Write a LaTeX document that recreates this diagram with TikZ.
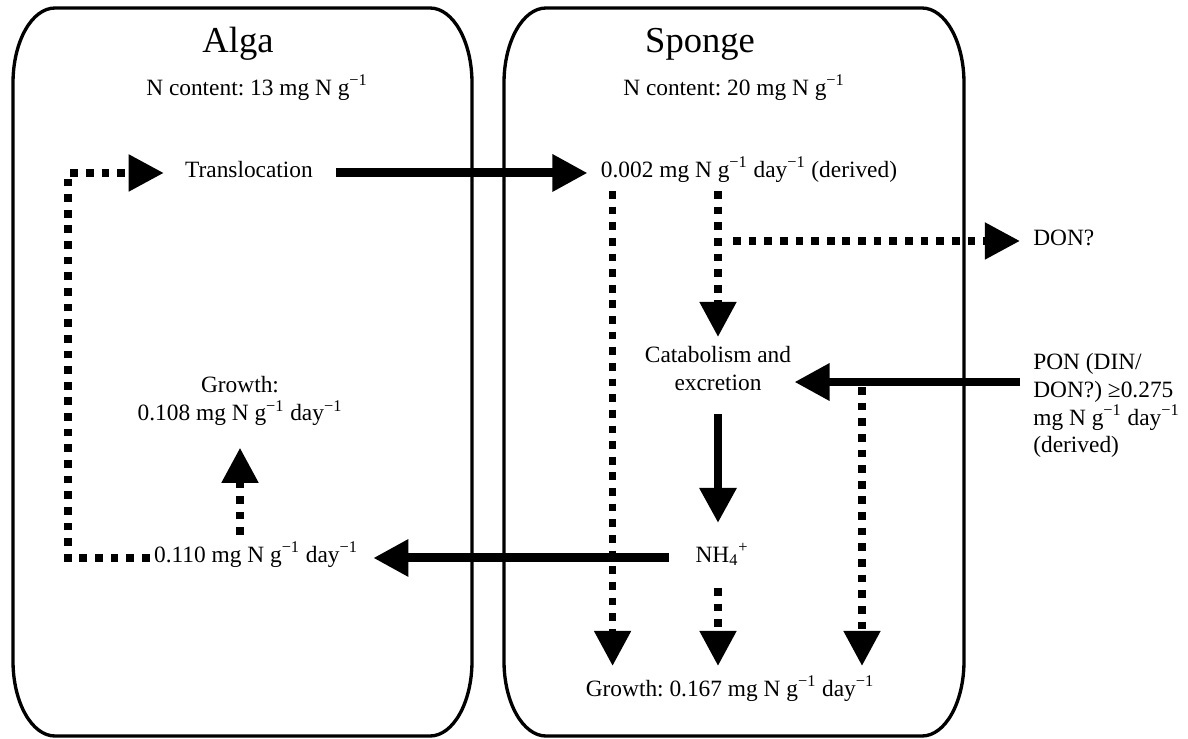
\documentclass[tikz,border=0pt]{standalone}
\usepackage{fontspec}
\setmainfont{Liberation Serif}
\usetikzlibrary{arrows.meta,calc}
\frenchspacing
\newcommand{\inv}{\textsuperscript{−1}}
\newcommand{\ellbox}[4]{%
  \draw[box] (#1,#2+75) arc[start angle=180, end angle=270, x radius=42, y radius=75]
    -- (#3-42,#2) arc[start angle=270, end angle=360, x radius=42, y radius=75]
    -- (#3,#4-75) arc[start angle=0, end angle=90, x radius=42, y radius=75]
    -- (#1+42,#4) arc[start angle=90, end angle=180, x radius=42, y radius=75]
    -- cycle;}
\begin{document}
\begin{tikzpicture}[x=0.02cm,y=-0.02cm,
  txt/.style={font=\fontsize{13.3}{15.8}\selectfont, inner sep=0pt, align=center},
  ttl/.style={font=\fontsize{20.8}{24}\selectfont, inner sep=0pt},
  box/.style={line width=1.9pt},
  solidarr/.style={line width=5.1pt, -{Triangle[length=20pt,width=20pt]}},
  dotarr/.style={line width=4.4pt, dash pattern=on 4.4pt off 4.5pt, -{Triangle[length=20pt,width=20pt]}}]
\useasboundingbox (0,0) rectangle (1188,738);
% boxes
\ellbox{13}{8}{472}{736}
\ellbox{504}{8}{964}{736}
% texts
\node[ttl, anchor=base] (algaT) at (238,52) {Alga};
\node[ttl, anchor=base] (spongeT) at (700,52) {Sponge};
\node[txt, anchor=base] (algaN) at (257,95) {N content: 13 mg N g\inv};
\node[txt, anchor=base] (spongeN) at (734,95) {N content: 20 mg N g\inv};
\node[txt, anchor=base] (transl) at (249,177) {Translocation};
\node[txt, anchor=base] (d002) at (749,177) {0.002 mg N g\inv{} day\inv{} (derived)};
\node[txt, anchor=base west] (don) at (1033,245) {DON?};
\node[txt, anchor=north] (catab) at (718,346) {Catabolism and\\excretion};
\node[txt, anchor=north west, align=left] (pon) at (1033,353) {PON (DIN/\\DON?) ≥0.275\\mg N g\inv{} day\inv\\(derived)};
\node[txt, anchor=north] (algG) at (240,376) {Growth:\\0.108 mg N g\inv{} day\inv};
\node[txt, anchor=base] (nh4) at (722,562) {NH\textsubscript{4}\textsuperscript{+}};
\node[txt, anchor=base] (g110) at (256,562) {0.110 mg N g\inv{} day\inv};
\node[txt, anchor=base] (spgG) at (730,696) {Growth: 0.167 mg N g\inv{} day\inv};
% helper coordinates
\coordinate (ponE) at (1020,382);
\coordinate (pj) at ($(ponE)+(-158,0)$);
\coordinate (loopc) at (68,0);
\coordinate (c1) at ($(d002.base west)+(12,14)$);
% solid arrows
\draw[solidarr] ($(transl.mid east)+(23,0)$) -- ($(d002.mid west)+(-13,0)$);
\draw[solidarr] (ponE) -- ($(ponE -| catab.east)+(3,0)$);
\draw[solidarr] ($(catab.south)+(0,23)$) -- ($(catab.south |- nh4.base)+(0,-39)$);
\draw[solidarr] ($(nh4.mid west)+(-26,0)$) -- ($(g110.mid east)+(15,0)$);
% dotted arrows
\draw[dotarr] ($(g110.mid west)+(-4,0)$) -| (loopc |- transl.mid west) -- ($(transl.mid west)+(-21,0)$);
\draw[dotarr] ($(g110.base -| algG.south)+(0,-27)$) -- ($(algG.south)+(0,22)$);
\draw[dotarr] (c1) -- ($(c1 |- spgG.base)+(0,-30)$);
\draw[dotarr] (c1 -| catab.north) -- ($(catab.north)+(0,-9)$);
\draw[dotarr] ($(catab.north |- don.mid west)+(15,0)$) -- ($(don.mid west)+(-13,0)$);
\draw[dotarr] ($(nh4.base -| catab.north)+(0,26)$) -- ($(catab.north |- spgG.base)+(0,-30)$);
\draw[dotarr] ($(pj)+(0,5)$) -- ($(pj |- spgG.base)+(0,-30)$);
\end{tikzpicture}
\end{document}
